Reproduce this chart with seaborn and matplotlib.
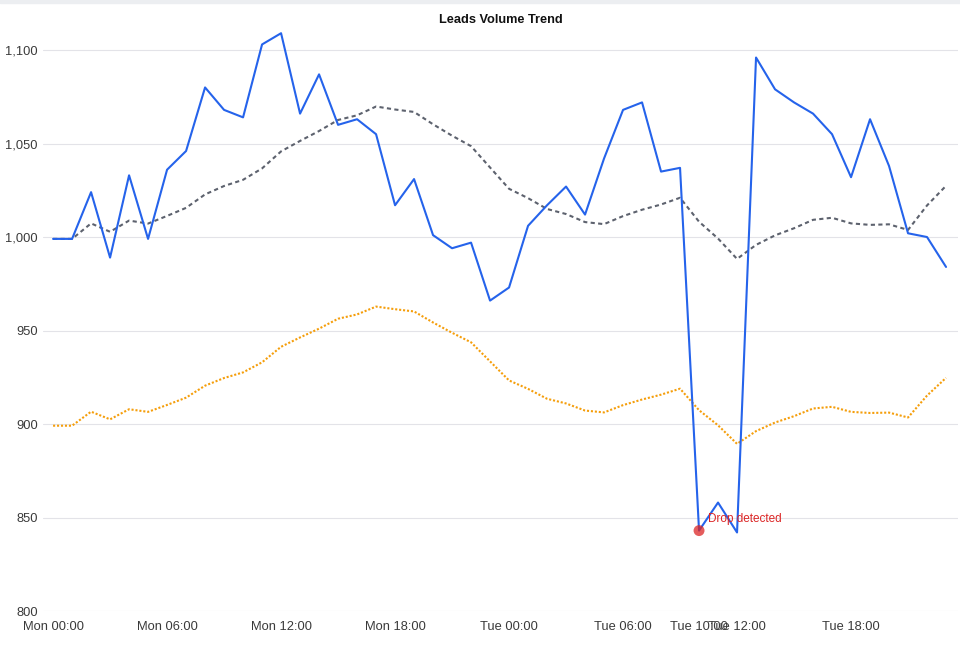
import numpy as np
import pandas as pd
import seaborn as sns
import matplotlib
matplotlib.use("Agg")
import matplotlib.pyplot as plt
from matplotlib.ticker import FuncFormatter

# hourly lead counts, Mon 00:00 .. Tue 23:00
hours = list(range(48))
leads = [999, 999, 1024, 989, 1033, 999, 1036, 1046, 1080, 1068,
         1064, 1103, 1109, 1066, 1087, 1060, 1063, 1055, 1017, 1031,
         1001, 994, 997, 966, 973, 1006, 1017, 1027, 1012, 1042,
         1068, 1072, 1035, 1037, 843, 858, 842, 1096, 1079, 1072,
         1066, 1055, 1032, 1063, 1038, 1002, 1000, 984]
# baseline (12h average)
baseline = [999.0, 999.0, 1007.3, 1002.8, 1008.8, 1007.2, 1011.3, 1015.6, 1022.8, 1027.3,
            1030.6, 1036.7, 1045.8, 1051.4, 1056.7, 1062.6, 1065.1, 1069.8, 1068.2, 1066.9,
            1060.3, 1054.2, 1048.6, 1037.2, 1025.8, 1020.8, 1015.0, 1012.3, 1008.0, 1006.9,
            1011.2, 1014.6, 1017.4, 1021.0, 1008.2, 999.2, 988.3, 995.8, 1000.9, 1004.7,
            1009.2, 1010.3, 1007.3, 1006.5, 1006.8, 1003.8, 1016.9, 1027.4]
# lower threshold, orange dotted line
threshold = [899.1, 899.1, 906.6, 902.5, 907.9, 906.5, 910.2, 914.1, 920.5, 924.6,
             927.6, 933.0, 941.3, 946.3, 951.0, 956.3, 958.6, 962.8, 961.4, 960.2,
             954.3, 948.8, 943.7, 933.5, 923.3, 918.8, 913.5, 911.0, 907.2, 906.2,
             910.1, 913.1, 915.7, 918.9, 907.4, 899.3, 889.4, 896.2, 900.8, 904.2,
             908.3, 909.2, 906.5, 905.9, 906.1, 903.5, 915.2, 924.7]
tick_hours = [0, 6, 12, 18, 24, 30, 34, 36, 42]
tick_labels = ["Mon 00:00", "Mon 06:00", "Mon 12:00", "Mon 18:00", "Tue 00:00",
               "Tue 06:00", "Tue 10:00", "Tue 12:00", "Tue 18:00"]
drop_hour = 34
drop_value = 843
drop_label = "Drop detected"

df = pd.DataFrame({"hour": hours, "leads": leads,
                   "baseline": baseline, "threshold": threshold})

sns.set_style("white")
plt.rcParams["font.family"] = ["Liberation Sans", "DejaVu Sans"]

fig = plt.figure(figsize=(9.6, 6.46), dpi=100)
ax = fig.add_axes([43 / 960, 1 - 611 / 646, 915 / 960, (611 - 22) / 646])

sns.lineplot(data=df, x="hour", y="threshold", ax=ax, color="#f59e0b",
             linewidth=1.5, zorder=2)
ax.lines[-1].set_dashes((1, 0.9))
sns.lineplot(data=df, x="hour", y="baseline", ax=ax, color="#5d626e",
             linewidth=1.5, zorder=3)
ax.lines[-1].set_dashes((2, 1.6))
sns.lineplot(data=df, x="hour", y="leads", ax=ax, color="#2563eb",
             linewidth=1.5, zorder=4)

ax.scatter([drop_hour], [drop_value], s=62, color="#dc2626", alpha=0.75,
           edgecolors="none", zorder=5)
ax.annotate(drop_label, xy=(drop_hour, drop_value), xytext=(6.5, 8.4),
            textcoords="offset points", ha="left", va="center",
            color="#dc2626", fontsize=8.5, zorder=6)

ax.set_xlim(-0.53, 47.63)
ax.set_ylim(800, 1115)
ax.set_yticks([800, 850, 900, 950, 1000, 1050, 1100])
ax.yaxis.set_major_formatter(FuncFormatter(lambda v, p: f"{int(v):,}"))
ax.set_xticks(tick_hours)
ax.set_xticklabels(tick_labels)
ax.tick_params(axis="both", length=0, labelsize=9.3, colors="#3a3a3a")
ax.tick_params(axis="y", pad=3.6)
ax.tick_params(axis="x", pad=7.5)
ax.grid(axis="y", color="#e3e3e8", linewidth=0.8)
ax.set_axisbelow(True)
for s in ax.spines.values():
    s.set_visible(False)
ax.set_xlabel("")
ax.set_ylabel("")

fig.text(500.5 / 960, 1 - 20 / 646, "Leads Volume Trend", ha="center", va="center",
         fontsize=9.2, fontweight="bold", color="#111111")
# faint bar along the top edge
fig.patches.append(plt.Rectangle((0, 1 - 3 / 646), 1, 3 / 646, transform=fig.transFigure,
                                 color="#eceef1", zorder=0))

fig.savefig("out.png", dpi=100)
